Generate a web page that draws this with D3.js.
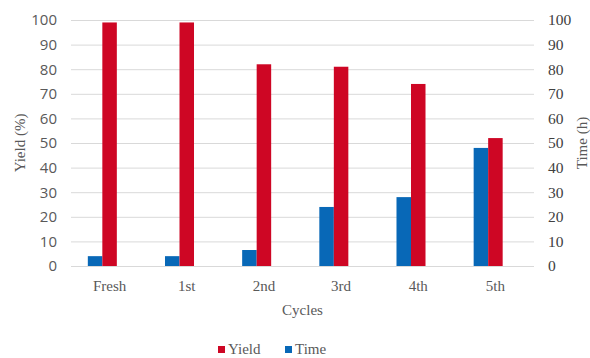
<!DOCTYPE html>
<html>
<head>
<meta charset="utf-8">
<script src="https://cdn.jsdelivr.net/npm/d3@7"></script>
<style>
  html, body { margin: 0; padding: 0; background: #fff; }
  svg { display: block; }
</style>
</head>
<body>
<svg id="chart" width="590" height="358"></svg>
<script>
// Catalyst recycling: yield (left axis) and reaction time (right axis) per cycle
const cycles = ["Fresh", "1st", "2nd", "3rd", "4th", "5th"];
const yieldPct = [99, 99, 82, 81, 74, 52];
const timeH = [4, 4, 6.5, 24, 28, 48];
const leftTicks = [0, 10, 20, 30, 40, 50, 60, 70, 80, 90, 100];
const rightTicks = [0, 10, 20, 30, 40, 50, 60, 70, 80, 90, 100];

const colors = { Yield: "#CE0624", Time: "#0868B7" };

const svg = d3.select("#chart");
const m = { left: 71, right: 534, top: 20, bottom: 266 };

const x = d3.scaleBand().domain(cycles).range([m.left, m.right]).paddingInner(0).paddingOuter(0);
const yL = d3.scaleLinear().domain([0, 100]).range([m.bottom, m.top]);
const yR = d3.scaleLinear().domain([0, 100]).range([m.bottom, m.top]);

// three slots per category (time, yield, spare) so the pair sits left of centre
const slot = d3.scaleBand().domain(["Time", "Yield", "spare"]).range([0, x.bandwidth()]).paddingInner(0).paddingOuter(1.16);

// gridlines
svg.append("g")
  .selectAll("line")
  .data(leftTicks)
  .join("line")
  .attr("x1", m.left).attr("x2", m.right)
  .attr("y1", d => yL(d) + 0.5).attr("y2", d => yL(d) + 0.5)
  .attr("stroke", "#d9d9d9").attr("stroke-width", 1);

// time bars (right axis)
svg.append("g")
  .selectAll("rect")
  .data(cycles)
  .join("rect")
  .attr("x", (c) => x(c) + slot("Time"))
  .attr("width", slot.bandwidth())
  .attr("y", (c, i) => yR(timeH[i]))
  .attr("height", (c, i) => yR(0) - yR(timeH[i]))
  .attr("fill", colors.Time);

// yield bars (left axis)
svg.append("g")
  .selectAll("rect")
  .data(cycles)
  .join("rect")
  .attr("x", (c) => x(c) + slot("Yield"))
  .attr("width", slot.bandwidth())
  .attr("y", (c, i) => yL(yieldPct[i]))
  .attr("height", (c, i) => yL(0) - yL(yieldPct[i]))
  .attr("fill", colors.Yield);

// left axis
const axL = svg.append("g")
  .attr("transform", `translate(${m.left - 14},0)`)
  .call(d3.axisLeft(yL).tickValues(leftTicks).tickSize(0).tickPadding(0));
axL.select(".domain").remove();
axL.selectAll("text")
  .attr("font-family", "'Open Sans', 'Liberation Sans', sans-serif")
  .attr("font-size", 15)
  .attr("fill", "#595959");

// right axis
const axR = svg.append("g")
  .attr("transform", `translate(${m.right + 14},0)`)
  .call(d3.axisRight(yR).tickValues(rightTicks).tickSize(0).tickPadding(0));
axR.select(".domain").remove();
axR.selectAll("text")
  .attr("font-family", "'Liberation Serif', serif")
  .attr("font-size", 15.5)
  .attr("fill", "#404040");

// category axis
const axB = svg.append("g")
  .attr("transform", `translate(0,${m.bottom})`)
  .call(d3.axisBottom(x).tickSize(0).tickPadding(14));
axB.select(".domain").remove();
axB.selectAll("text")
  .attr("font-family", "'Liberation Serif', serif")
  .attr("font-size", 15)
  .attr("fill", "#595959");

// axis titles
const serif = "'Liberation Serif', serif";
svg.append("text")
  .attr("transform", `translate(25,${(m.top + m.bottom) / 2}) rotate(-90)`)
  .attr("text-anchor", "middle")
  .attr("font-family", serif).attr("font-size", 15).attr("fill", "#595959")
  .text("Yield (%)");
svg.append("text")
  .attr("transform", `translate(587,${(m.top + m.bottom) / 2}) rotate(-90)`)
  .attr("text-anchor", "middle")
  .attr("font-family", serif).attr("font-size", 15).attr("fill", "#595959")
  .text("Time (h)");
svg.append("text")
  .attr("x", (m.left + m.right) / 2).attr("y", 315)
  .attr("text-anchor", "middle")
  .attr("font-family", serif).attr("font-size", 15).attr("fill", "#595959")
  .text("Cycles");

// legend
const legendItems = [{ name: "Yield", x: 218 }, { name: "Time", x: 285 }];
const lg = svg.append("g");
lg.selectAll("rect")
  .data(legendItems)
  .join("rect")
  .attr("x", d => d.x).attr("y", 346)
  .attr("width", 7).attr("height", 7)
  .attr("fill", d => colors[d.name]);
lg.selectAll("text")
  .data(legendItems)
  .join("text")
  .attr("x", d => d.x + 10).attr("y", 354)
  .attr("font-family", serif).attr("font-size", 15).attr("fill", "#595959")
  .text(d => d.name);
</script>
</body>
</html>
